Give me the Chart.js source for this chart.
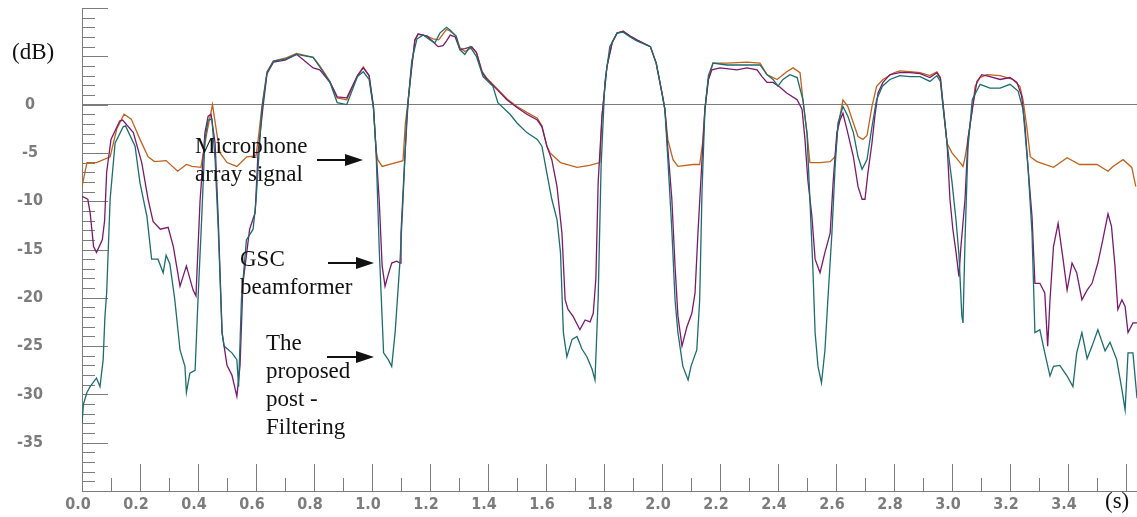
<!DOCTYPE html>
<html>
<head>
<meta charset="utf-8">
<script src="https://cdn.jsdelivr.net/npm/chart.js@4.4.1/dist/chart.umd.min.js"></script>
<style>
  html, body { margin: 0; padding: 0; background: #fff; }
  #wrap { width: 1137px; height: 517px; position: relative; }
</style>
</head>
<body>
<div id="wrap"><canvas id="levelChart"></canvas></div>
<script>
// [time (s), level (dB)]
const micSignal = [
  [0.000, -8.5], [0.017, -6.0], [0.050, -6.0], [0.097, -5.4], [0.120, -2.5], [0.145, -1.0],
  [0.170, -1.5], [0.200, -3.6], [0.228, -5.4], [0.250, -5.9], [0.290, -5.8], [0.330, -6.9],
  [0.360, -6.2], [0.380, -6.4], [0.410, -6.5], [0.430, -3.0], [0.450, 0.0], [0.465, -3.0],
  [0.476, -5.0], [0.500, -6.0], [0.534, -6.4], [0.568, -5.4], [0.600, -5.3], [0.610, -3.0],
  [0.620, -0.3], [0.638, 3.4], [0.660, 4.5], [0.700, 4.8], [0.740, 5.3], [0.797, 4.9],
  [0.820, 4.0], [0.855, 2.4], [0.880, 0.7], [0.913, 0.5], [0.950, 3.0], [0.970, 3.9],
  [0.990, 3.0], [1.005, -0.2], [1.014, -4.7], [1.020, -5.7], [1.035, -6.4], [1.070, -6.1],
  [1.107, -5.8], [1.115, -2.0], [1.125, 0.5], [1.137, 3.9], [1.148, 6.7], [1.159, 7.3],
  [1.190, 7.1], [1.210, 6.8], [1.230, 6.7], [1.257, 7.8], [1.270, 7.6], [1.290, 7.1],
  [1.303, 5.9], [1.320, 5.5], [1.344, 5.9], [1.360, 5.4], [1.380, 3.4], [1.397, 2.7],
  [1.430, 1.7], [1.465, 0.6], [1.500, -0.2], [1.534, -0.8], [1.570, -1.4], [1.586, -2.2],
  [1.603, -4.3], [1.614, -5.0], [1.650, -6.0], [1.707, -6.5], [1.750, -6.3], [1.786, -6.0],
  [1.793, -1.2], [1.810, 3.9], [1.828, 6.4], [1.845, 7.4], [1.866, 7.6], [1.890, 7.1],
  [1.913, 6.7], [1.960, 6.0], [1.980, 4.3], [2.000, 1.2], [2.010, -0.5], [2.020, -3.6],
  [2.038, -5.7], [2.055, -6.4], [2.107, -6.2], [2.130, -6.2], [2.140, -4.0], [2.148, -0.5],
  [2.160, 2.6], [2.176, 4.3], [2.224, 4.3], [2.293, 4.4], [2.338, 4.3], [2.362, 3.1],
  [2.397, 2.6], [2.430, 3.4], [2.452, 3.8], [2.476, 3.3], [2.486, 0.5], [2.500, -2.9],
  [2.510, -6.0], [2.545, -6.0], [2.580, -5.9], [2.597, -5.4], [2.607, -2.3], [2.624, 0.5],
  [2.641, -0.2], [2.660, -1.9], [2.676, -3.3], [2.693, -3.6], [2.707, -3.2], [2.724, -0.2],
  [2.740, 1.9], [2.762, 2.6], [2.800, 3.3], [2.820, 3.5], [2.855, 3.4], [2.890, 3.3],
  [2.924, 3.0], [2.948, 3.4], [2.960, 2.8], [2.970, -0.2], [2.983, -4.0], [3.000, -5.0],
  [3.028, -6.0], [3.038, -6.4], [3.045, -5.5], [3.055, -3.6], [3.070, -0.5], [3.080, 1.9],
  [3.097, 2.8], [3.120, 3.1], [3.166, 3.0], [3.210, 2.6], [3.234, 1.9], [3.245, 0.5],
  [3.258, -2.3], [3.270, -5.4], [3.293, -5.9], [3.350, -6.5], [3.397, -5.5], [3.440, -6.2],
  [3.500, -6.2], [3.538, -6.9], [3.555, -6.4], [3.590, -5.7], [3.620, -6.5], [3.634, -8.5]
];

const gscBeamformer = [
  [0.000, -9.5], [0.020, -9.8], [0.028, -11.2], [0.040, -14.7], [0.050, -15.3], [0.070, -14.0],
  [0.078, -12.0], [0.085, -7.0], [0.100, -3.6], [0.130, -1.7], [0.140, -1.6], [0.177, -2.9],
  [0.206, -6.0], [0.228, -9.8], [0.245, -12.1], [0.270, -12.9], [0.297, -12.7], [0.315, -14.7],
  [0.338, -18.8], [0.360, -16.7], [0.383, -19.2], [0.393, -19.8], [0.407, -10.0], [0.424, -2.9],
  [0.435, -1.2], [0.445, -1.0], [0.459, -4.0], [0.470, -12.0], [0.483, -23.6], [0.500, -27.0],
  [0.517, -28.0], [0.534, -30.2], [0.545, -27.0], [0.555, -18.5], [0.578, -12.9], [0.597, -11.2],
  [0.607, -5.0], [0.624, -0.3], [0.638, 3.2], [0.660, 4.4], [0.700, 4.6], [0.740, 5.2],
  [0.797, 3.8], [0.820, 3.6], [0.855, 2.3], [0.880, 0.8], [0.913, 0.7], [0.950, 3.0],
  [0.970, 3.8], [0.990, 3.0], [1.005, -0.2], [1.014, -4.7], [1.025, -10.0], [1.035, -16.7],
  [1.045, -18.8], [1.056, -17.6], [1.068, -16.4], [1.085, -16.2], [1.097, -16.4], [1.100, -13.3],
  [1.114, -5.0], [1.125, 0.5], [1.137, 3.9], [1.148, 6.7], [1.159, 7.3], [1.190, 7.1],
  [1.210, 6.5], [1.228, 6.0], [1.245, 6.1], [1.257, 6.6], [1.270, 7.2], [1.287, 7.0],
  [1.303, 5.7], [1.320, 5.8], [1.344, 6.0], [1.360, 5.4], [1.380, 3.3], [1.397, 2.6],
  [1.430, 1.6], [1.465, 0.5], [1.500, -0.3], [1.534, -1.0], [1.570, -1.6], [1.586, -2.3],
  [1.603, -4.3], [1.620, -5.7], [1.638, -8.5], [1.655, -13.3], [1.666, -20.2], [1.676, -21.2],
  [1.693, -21.9], [1.717, -23.3], [1.735, -22.3], [1.752, -22.5], [1.763, -21.6], [1.772, -18.0],
  [1.780, -8.0], [1.793, -1.2], [1.810, 3.9], [1.828, 6.4], [1.845, 7.4], [1.866, 7.6],
  [1.890, 7.1], [1.913, 6.7], [1.960, 6.0], [1.980, 4.3], [2.000, 1.2], [2.010, -0.5],
  [2.020, -4.5], [2.034, -9.8], [2.045, -16.7], [2.055, -21.9], [2.069, -25.0], [2.086, -23.0],
  [2.103, -21.6], [2.114, -19.5], [2.124, -13.3], [2.138, -5.7], [2.148, -0.5], [2.160, 2.6],
  [2.172, 3.6], [2.200, 3.8], [2.258, 3.6], [2.293, 3.8], [2.328, 3.6], [2.345, 2.9],
  [2.362, 2.3], [2.383, 2.3], [2.407, 1.8], [2.430, 1.2], [2.466, 0.5], [2.483, -0.5],
  [2.493, -3.6], [2.503, -7.8], [2.517, -11.6], [2.528, -16.0], [2.545, -17.4], [2.562, -15.3],
  [2.580, -13.3], [2.590, -8.1], [2.603, -2.9], [2.614, -1.6], [2.624, -0.9], [2.638, -2.6],
  [2.660, -5.4], [2.676, -8.5], [2.690, -9.8], [2.700, -9.8], [2.710, -7.1], [2.724, -4.0],
  [2.734, -1.2], [2.745, 1.2], [2.762, 2.3], [2.786, 3.1], [2.820, 3.3], [2.855, 3.3],
  [2.890, 3.2], [2.924, 2.8], [2.948, 3.3], [2.960, 2.7], [2.970, -0.2], [2.983, -4.0],
  [2.993, -9.8], [3.003, -12.9], [3.014, -15.3], [3.024, -17.8], [3.030, -15.0], [3.045, -9.8],
  [3.055, -3.6], [3.070, -0.5], [3.086, 2.4], [3.103, 3.1], [3.131, 2.9], [3.166, 2.6],
  [3.200, 2.8], [3.224, 2.3], [3.240, 0.9], [3.252, -2.3], [3.262, -6.4], [3.276, -11.6],
  [3.286, -18.5], [3.303, -18.5], [3.320, -19.5], [3.330, -25.0], [3.338, -20.2], [3.350, -14.7],
  [3.366, -12.3], [3.383, -16.0], [3.397, -19.2], [3.414, -16.4], [3.430, -17.4], [3.448, -20.2],
  [3.466, -19.2], [3.483, -18.5], [3.503, -16.4], [3.520, -14.0], [3.538, -11.3], [3.550, -12.6],
  [3.562, -16.7], [3.572, -21.2], [3.586, -20.2], [3.597, -20.9], [3.607, -23.6], [3.624, -22.6],
  [3.638, -22.6]
];

const postFiltering = [
  [0.000, -33.0], [0.005, -31.0], [0.017, -29.8], [0.028, -29.2], [0.050, -28.3], [0.062, -29.2],
  [0.073, -26.4], [0.079, -22.0], [0.085, -19.5], [0.097, -9.8], [0.114, -4.0], [0.142, -2.3],
  [0.150, -2.2], [0.183, -4.3], [0.200, -8.1], [0.224, -11.6], [0.240, -16.0], [0.262, -16.0],
  [0.280, -17.4], [0.290, -15.6], [0.303, -16.5], [0.320, -20.2], [0.338, -25.4], [0.355, -27.1],
  [0.360, -29.8], [0.372, -27.8], [0.390, -27.5], [0.400, -20.2], [0.413, -11.6], [0.424, -3.6],
  [0.435, -1.6], [0.448, -1.5], [0.459, -5.7], [0.470, -13.0], [0.483, -23.6], [0.490, -25.0],
  [0.517, -25.7], [0.534, -26.4], [0.540, -29.2], [0.550, -20.0], [0.567, -14.0], [0.590, -12.9],
  [0.600, -10.0], [0.620, -0.5], [0.638, 3.3], [0.660, 4.5], [0.700, 4.7], [0.740, 5.2],
  [0.797, 4.9], [0.820, 3.9], [0.855, 2.3], [0.880, 0.2], [0.913, 0.0], [0.950, 2.9],
  [0.970, 3.4], [0.990, 2.6], [1.005, -0.4], [1.014, -4.7], [1.025, -15.0], [1.040, -25.7],
  [1.056, -26.4], [1.068, -27.1], [1.080, -23.5], [1.097, -16.0], [1.107, -9.8], [1.120, -1.2],
  [1.137, 4.5], [1.155, 6.8], [1.177, 7.2], [1.200, 6.7], [1.217, 6.4], [1.234, 7.4],
  [1.257, 8.0], [1.270, 7.7], [1.290, 7.1], [1.303, 5.7], [1.320, 5.2], [1.338, 6.0],
  [1.360, 5.0], [1.383, 2.9], [1.417, 1.9], [1.434, 0.2], [1.476, -1.0], [1.500, -1.9],
  [1.534, -2.9], [1.570, -3.6], [1.586, -4.3], [1.603, -7.1], [1.620, -9.8], [1.638, -11.9],
  [1.650, -15.3], [1.660, -23.6], [1.672, -26.1], [1.690, -24.3], [1.707, -24.0], [1.724, -25.3],
  [1.741, -26.1], [1.759, -27.4], [1.769, -28.5], [1.780, -20.0], [1.790, -6.4], [1.803, 2.3],
  [1.820, 6.0], [1.845, 7.4], [1.866, 7.5], [1.890, 7.0], [1.913, 6.6], [1.960, 6.0],
  [1.980, 4.3], [2.000, 1.2], [2.010, -0.5], [2.020, -5.5], [2.034, -13.0], [2.045, -20.2],
  [2.055, -23.6], [2.072, -27.1], [2.090, -28.5], [2.100, -27.1], [2.120, -25.4], [2.130, -20.2],
  [2.138, -9.0], [2.148, -0.5], [2.160, 3.0], [2.176, 4.3], [2.224, 4.1], [2.293, 4.1],
  [2.338, 4.1], [2.362, 3.1], [2.383, 2.6], [2.400, 1.9], [2.417, 2.6], [2.441, 3.1],
  [2.466, 2.8], [2.486, 0.5], [2.500, -3.0], [2.510, -9.8], [2.520, -16.7], [2.528, -23.6],
  [2.538, -27.1], [2.550, -28.8], [2.562, -25.4], [2.572, -20.2], [2.586, -13.3], [2.597, -6.4],
  [2.607, -1.9], [2.624, -0.2], [2.641, -1.2], [2.660, -2.9], [2.676, -5.4], [2.690, -6.7],
  [2.707, -5.7], [2.724, -2.3], [2.740, 0.5], [2.760, 1.9], [2.786, 2.6], [2.820, 3.0],
  [2.855, 2.9], [2.890, 2.9], [2.924, 2.4], [2.948, 3.0], [2.960, 2.4], [2.970, -0.5],
  [2.983, -4.0], [3.000, -8.0], [3.014, -12.0], [3.024, -15.5], [3.034, -21.9], [3.038, -22.6],
  [3.045, -14.0], [3.055, -4.5], [3.070, 0.5], [3.097, 2.1], [3.131, 1.7], [3.166, 1.7],
  [3.200, 2.1], [3.228, 1.4], [3.245, -0.5], [3.262, -6.4], [3.276, -13.3], [3.286, -23.6],
  [3.303, -23.3], [3.320, -25.7], [3.338, -28.1], [3.350, -27.1], [3.372, -27.0], [3.397, -28.1],
  [3.417, -29.2], [3.430, -25.7], [3.448, -23.6], [3.466, -26.3], [3.483, -25.0], [3.503, -23.3],
  [3.528, -25.5], [3.545, -24.6], [3.568, -26.4], [3.586, -29.5], [3.597, -31.6], [3.607, -25.7],
  [3.624, -25.7], [3.638, -30.4]
];

const seriesNames = ["Microphone array signal", "GSC beamformer", "The proposed post - Filtering"];
const seriesColors = ["#c0621c", "#7a1a6c", "#1c6c70"];

// axis ranges and ticks
const xMin = 0, xMax = 3.638, xMajor = 0.2, xMinor = 0.1, xLastLabel = 3.4;
const yMin = -40, yMax = 10, yMajor = 5, yMinor = 1;

// text annotations with arrows (canvas pixels)
const notes = [
  { lines: ["Microphone", "array signal"], x: 195, y: 153, arrow: [317, 363, 160] },
  { lines: ["GSC", "beamformer"], x: 240, y: 266, arrow: [328, 374, 263] },
  { lines: ["The", "proposed", "post -", "Filtering"], x: 266, y: 350, arrow: [327, 374, 357] }
];

const grey = "#7c7c7c";
const tickFont = {
  family: "'DejaVu Sans Condensed', 'Liberation Sans Narrow', 'Liberation Sans', sans-serif",
  size: 16,
  weight: "bold",
};

const innerTicks = {
  id: "innerTicks",
  beforeDatasetsDraw(chart) {
    const { ctx, chartArea, scales } = chart;
    const xs = scales.x, ys = scales.y;
    ctx.save();
    ctx.strokeStyle = grey;
    ctx.lineWidth = 1;
    ctx.beginPath();
    for (let i = 0; i * xMinor <= xMax + 1e-9; i++) {
      const px = Math.round(xs.getPixelForValue(i * xMinor)) + 0.5;
      const len = i % 2 === 0 ? 27 : 13;
      ctx.moveTo(px, chartArea.bottom);
      ctx.lineTo(px, chartArea.bottom - len);
    }
    for (let v = yMin + yMinor; v <= yMax; v += yMinor) {
      const py = Math.round(ys.getPixelForValue(v)) + 0.5;
      const len = v % yMajor === 0 ? 26 : 13;
      ctx.moveTo(chartArea.left, py);
      ctx.lineTo(chartArea.left + len, py);
    }
    ctx.stroke();
    ctx.restore();
  },
  afterDraw(chart) {
    const { ctx } = chart;
    ctx.save();
    ctx.fillStyle = "#111";
    ctx.strokeStyle = "#111";
    ctx.font = "23px 'Liberation Serif', 'Times New Roman', serif";
    ctx.textBaseline = "alphabetic";
    ctx.textAlign = "left";
    ctx.fillText("(dB)", 12, 59);
    ctx.fillText("(s)", 1105, 508);
    notes.forEach(n => {
      n.lines.forEach((s, i) => ctx.fillText(s, n.x, n.y + i * 28));
      const [x1, x2, y] = n.arrow;
      ctx.lineWidth = 2;
      ctx.beginPath();
      ctx.moveTo(x1, y);
      ctx.lineTo(x2 - 14, y);
      ctx.stroke();
      ctx.beginPath();
      ctx.moveTo(x2 - 18, y - 6);
      ctx.lineTo(x2, y);
      ctx.lineTo(x2 - 18, y + 6);
      ctx.closePath();
      ctx.fill();
    });
    ctx.restore();
  }
};

const toPoints = arr => arr.map(([t, db]) => ({ x: t, y: db }));

new Chart(document.getElementById("levelChart"), {
  type: "line",
  data: {
    datasets: [micSignal, gscBeamformer, postFiltering].map((s, i) => ({
      label: seriesNames[i],
      data: toPoints(s),
      borderColor: seriesColors[i],
      borderWidth: 1.3,
      pointRadius: 0,
      tension: 0,
      fill: false,
      order: 3 - i,
    })),
  },
  options: {
    responsive: true,
    maintainAspectRatio: false,
    animation: false,
    layout: { padding: { top: 8, right: 0, bottom: 0, left: 0 } },
    plugins: {
      legend: { display: false },
      tooltip: { enabled: false },
    },
    scales: {
      x: {
        type: "linear",
        min: xMin,
        max: xMax,
        afterFit: s => { s.height = 26; s.paddingLeft = 0; s.paddingRight = 0; },
        border: { display: true, color: grey, width: 1 },
        grid: { drawOnChartArea: false, drawTicks: false },
        ticks: {
          stepSize: xMajor,
          autoSkip: false,
          maxRotation: 0,
          padding: 4,
          labelOffset: -4,
          color: grey,
          font: tickFont,
          callback: v => {
            const k = v / xMajor;
            return Math.abs(k - Math.round(k)) < 1e-6 && v <= xLastLabel + 1e-6 ? v.toFixed(1) : "";
          },
        },
      },
      y: {
        min: yMin,
        max: yMax,
        afterFit: s => { s.width = 82; s.paddingTop = 0; s.paddingBottom = 0; },
        border: { display: true, color: grey, width: 1 },
        grid: {
          drawTicks: false,
          color: c => (c.tick && c.tick.value === 0 ? grey : "rgba(0,0,0,0)"),
          lineWidth: 1,
        },
        ticks: {
          stepSize: yMajor,
          padding: 39,
          crossAlign: "center",
          color: grey,
          font: tickFont,
          callback: v => (v <= 0 && v > yMin ? String(v) : ""),
        },
      },
    },
  },
  plugins: [innerTicks],
});
</script>
</body>
</html>
